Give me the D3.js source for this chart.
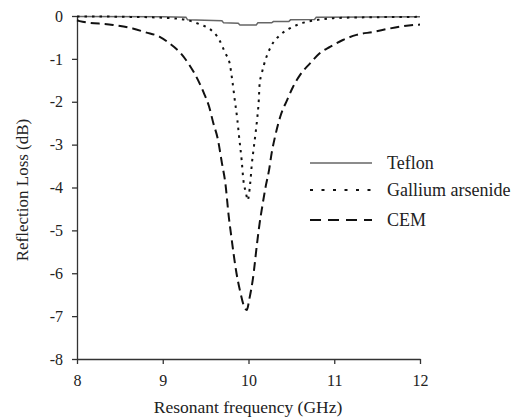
<!DOCTYPE html>
<html><head><meta charset="utf-8">
<script src="https://cdn.jsdelivr.net/npm/d3@7"></script>
<style>body{margin:0;background:#fff}svg{display:block}text{font-family:"Liberation Serif","DejaVu Serif",serif;fill:#222}</style>
</head><body><svg id="c" width="512" height="420"></svg>
<script>
const xTicks=[8,9,10,11,12];
const yTicks=[0,-1,-2,-3,-4,-5,-6,-7,-8];
const seriesNames=["Teflon","Gallium arsenide","CEM"];
const teflonX=[8,9.0,9.27,9.29,9.69,9.71,9.88,9.9,10.09,10.11,10.27,10.29,10.47,10.49,10.77,10.79,12];
const teflonY=[-0.01,-0.02,-0.03,-0.09,-0.11,-0.16,-0.17,-0.21,-0.21,-0.16,-0.16,-0.13,-0.13,-0.09,-0.08,-0.03,-0.02];
const gaasX=[8,8.6,9.0,9.27,9.45,9.54,9.66,9.73,9.78,9.81,9.84,9.87,9.89,9.92,9.94,9.97,9.99,10.02,10.04,10.06,10.08,10.1,10.12,10.13,10.15,10.18,10.21,10.27,10.37,10.48,10.62,10.81,10.99,11.4,12];
const gaasY=[-0.01,-0.02,-0.04,-0.09,-0.21,-0.29,-0.56,-0.87,-1.1,-1.49,-1.96,-2.42,-2.81,-3.36,-3.82,-4.12,-4.3,-3.9,-3.43,-3.1,-2.77,-2.42,-1.96,-1.57,-1.38,-1.14,-0.95,-0.68,-0.44,-0.29,-0.17,-0.09,-0.05,-0.03,-0.02];
const cemX=[8,8.03,8.42,8.65,8.8,8.96,9.08,9.21,9.31,9.41,9.48,9.54,9.59,9.64,9.69,9.73,9.77,9.8,9.83,9.86,9.9,9.95,9.98,10.01,10.05,10.1,10.13,10.16,10.2,10.24,10.27,10.31,10.37,10.45,10.52,10.6,10.72,10.83,10.95,11.1,11.26,11.46,11.65,11.92,12];
const cemY=[-0.1,-0.12,-0.21,-0.29,-0.38,-0.48,-0.64,-0.87,-1.14,-1.49,-1.8,-2.11,-2.5,-2.85,-3.43,-3.9,-4.68,-5.15,-5.6,-6.0,-6.4,-6.78,-6.86,-6.6,-6.15,-5.3,-4.83,-4.45,-3.98,-3.59,-3.2,-2.81,-2.35,-1.96,-1.65,-1.38,-1.1,-0.87,-0.72,-0.56,-0.44,-0.37,-0.29,-0.21,-0.2];

const svg=d3.select("#c");
const x=d3.scaleLinear().domain([8,12]).range([77,420]);
const y=d3.scaleLinear().domain([-8,0]).range([359,16]);
const fmt=d=>String(d);

const xa=svg.append("g").attr("transform","translate(0,359)")
 .call(d3.axisBottom(x).tickValues(xTicks).tickFormat(fmt).tickSize(5).tickSizeOuter(0).tickPadding(11));
const ya=svg.append("g").attr("transform","translate(77,0)")
 .call(d3.axisLeft(y).tickValues(yTicks).tickFormat(fmt).tickSize(5).tickSizeOuter(0).tickPadding(9));
[xa,ya].forEach(a=>{a.attr("font-family",null);a.selectAll("path,line").attr("stroke","#333").attr("stroke-width",1.3);
 a.selectAll("text").style("font-family","'Liberation Serif','DejaVu Serif',serif").style("font-size","16px").attr("fill","#222");});

const line=d3.line().x(d=>x(d[0])).y(d=>y(d[1]));
const smooth=d3.line().x(d=>x(d[0])).y(d=>y(d[1])).curve(d3.curveMonotoneX);
const data=[
 {pts:d3.zip(teflonX,teflonY),gen:line,stroke:"#666",w:1.5,dash:null,ldash:null},
 {pts:d3.zip(gaasX,gaasY),gen:smooth,stroke:"#111",w:2,dash:"2.5,5",ldash:"3,8.5"},
 {pts:d3.zip(cemX,cemY),gen:smooth,stroke:"#111",w:2,dash:"9,5",ldash:"11,7"}
];
data.forEach(s=>{svg.append("path").attr("d",s.gen(s.pts)).attr("fill","none")
 .attr("stroke",s.stroke).attr("stroke-width",s.w).attr("stroke-dasharray",s.dash);});

const ly=[163,190,220];
seriesNames.forEach((n,i)=>{
 svg.append("line").attr("x1",310).attr("x2",372).attr("y1",ly[i]).attr("y2",ly[i])
  .attr("stroke",data[i].stroke).attr("stroke-width",data[i].w).attr("stroke-dasharray",data[i].ldash);
 svg.append("text").attr("x",387).attr("y",ly[i]).attr("dy","0.35em").style("font-size","18px").text(n);
});

svg.append("text").attr("x",248).attr("y",413).attr("text-anchor","middle").style("font-size","17.5px").text("Resonant frequency (GHz)");
svg.append("text").attr("transform","translate(28,190) rotate(-90)").attr("text-anchor","middle").style("font-size","17px").text("Reflection Loss (dB)");
</script></body></html>
